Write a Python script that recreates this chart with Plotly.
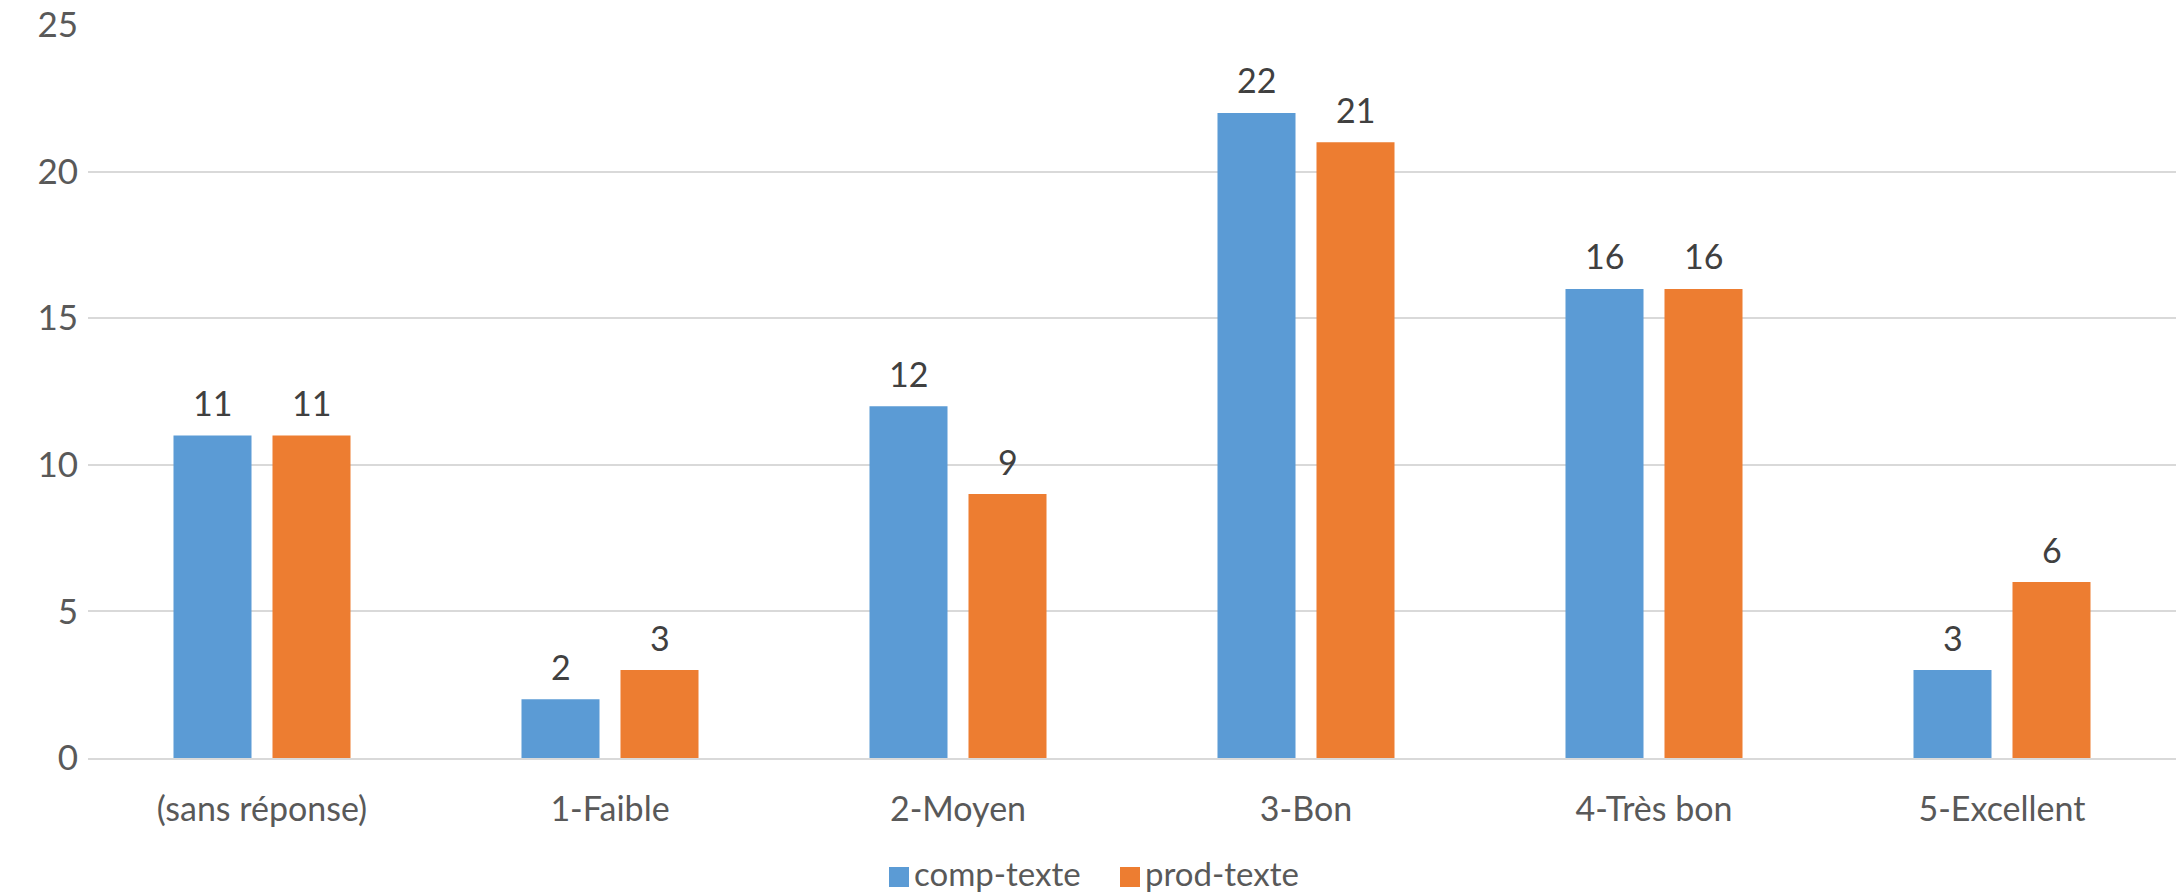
import plotly.graph_objects as go

categories = ["(sans réponse)", "1-Faible", "2-Moyen", "3-Bon", "4-Très bon", "5-Excellent"]
comp_texte = [11, 2, 12, 22, 16, 3]
prod_texte = [11, 3, 9, 21, 16, 6]
y_ticks = [0, 5, 10, 15, 20, 25]

FONT = "Lato, 'Open Sans', sans-serif"
BLUE = "#5B9BD5"
ORANGE = "#ED7D31"
TICK_COLOR = "#595959"
LABEL_COLOR = "#404040"

W, H = 2178, 894
M_L, M_R, M_T, M_B = 88, 2, 25, 136
BARGAP = 0.431
BARGROUPGAP = 0.212

series = [("comp-texte", comp_texte, BLUE), ("prod-texte", prod_texte, ORANGE)]

fig = go.Figure()
for name, vals, color in series:
    fig.add_trace(go.Bar(
        x=categories, y=vals, name=name,
        marker=dict(color=color, line=dict(width=0)),
        showlegend=False,
    ))

# value labels above each bar, placed at the grouped bar centres
slot = (1 - BARGAP) / len(series)
annotations = []
for si, (name, vals, color) in enumerate(series):
    off = -(1 - BARGAP) / 2 + slot * (si + 0.5)
    for ci, v in enumerate(vals):
        annotations.append(dict(
            x=ci + off, y=v, xref="x", yref="y", text=str(v), showarrow=False,
            yanchor="middle", yshift=33,
            font=dict(family=FONT, size=34, color=LABEL_COLOR),
        ))

# legend drawn below the plot: square swatch + name
plot_w = W - M_L - M_R
plot_h = H - M_T - M_B


def px_x(px):
    return (px - M_L) / plot_w


def px_y(py):
    return (H - M_B - py) / plot_h


shapes = []
legend_items = [("comp-texte", BLUE, 889), ("prod-texte", ORANGE, 1120)]
for name, color, x0 in legend_items:
    shapes.append(dict(type="rect", xref="paper", yref="paper",
                       x0=px_x(x0), x1=px_x(x0 + 20), y0=px_y(887), y1=px_y(867),
                       fillcolor=color, line=dict(width=0)))
    annotations.append(dict(x=px_x(x0 + 24), y=px_y(894), xref="paper", yref="paper",
                            text=name, showarrow=False, xanchor="left", yanchor="bottom",
                            borderpad=0,
                            font=dict(family=FONT, size=33, color=TICK_COLOR)))

fig.update_layout(
    width=W, height=H,
    margin=dict(l=M_L, r=M_R, t=M_T, b=M_B, autoexpand=False),
    paper_bgcolor="white", plot_bgcolor="white",
    barmode="group", bargap=BARGAP, bargroupgap=BARGROUPGAP,
    font=dict(family=FONT, size=34, color=TICK_COLOR),
    showlegend=False,
    annotations=annotations,
    shapes=shapes,
    xaxis=dict(showgrid=False, showline=True, linecolor="#D9D9D9", linewidth=2,
               ticks="", tickfont=dict(family=FONT, size=34, color=TICK_COLOR),
               ticklabelstandoff=20),
    yaxis=dict(range=[0, 25], tickvals=y_ticks, showgrid=True, gridcolor="#D9D9D9", gridwidth=2,
               zeroline=False, showline=False, ticks="",
               tickfont=dict(family=FONT, size=35, color=TICK_COLOR),
               ticklabelstandoff=9),
)

fig.write_html("out.html")
